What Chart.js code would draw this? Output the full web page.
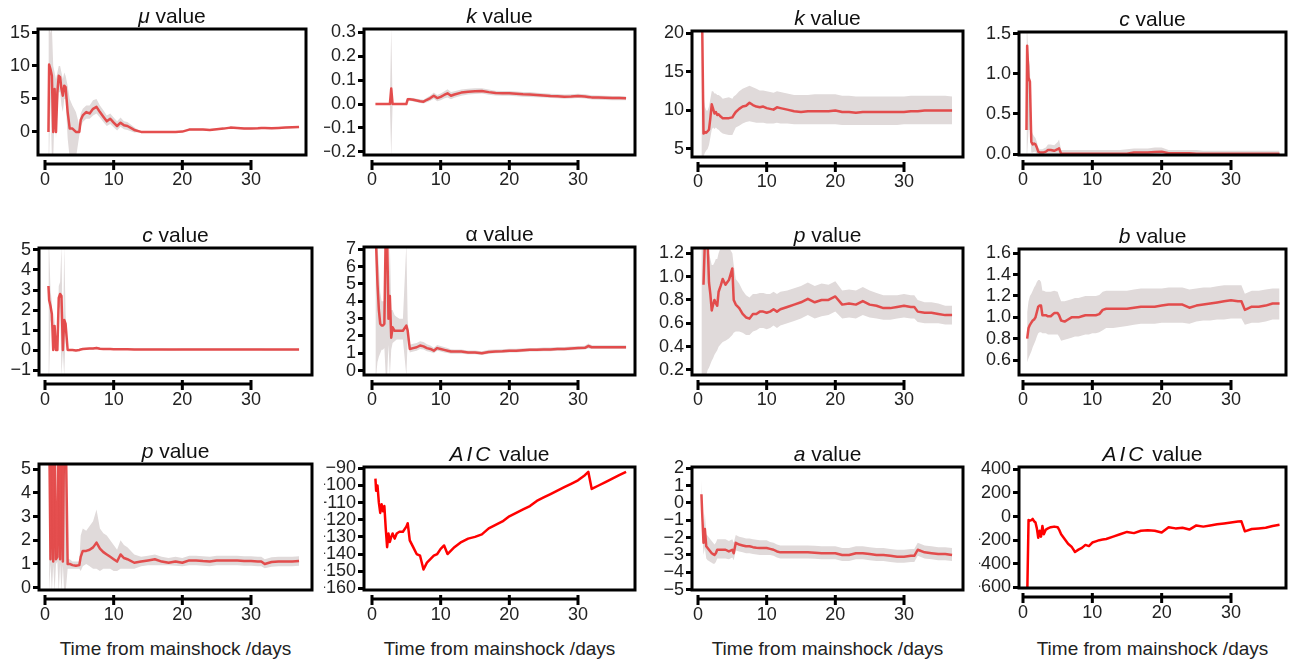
<!DOCTYPE html>
<html>
<head>
<meta charset="utf-8">
<script src="https://cdn.jsdelivr.net/npm/chart.js@4.4.0/dist/chart.umd.min.js"></script>
<style>
body { margin: 0; background: #fff; width: 1291px; height: 668px; overflow: hidden; position: relative; font-family: "Liberation Sans", Arial, sans-serif; }
canvas { position: absolute; }
.ttl { position: absolute; text-align: center; font-size: 21px; line-height: 24px; color: #111; white-space: nowrap; }
.xlab { position: absolute; text-align: center; font-size: 19px; line-height: 22px; color: #222; white-space: nowrap; }
</style>
</head>
<body>
<script>
// Shared time axis (days after mainshock); finer spacing early on where the fits jump around
const days = [0.5, 0.6, 0.8, 1.0, 1.2, 1.4, 1.6, 1.8, 2.0, 2.2,
    2.4, 2.6, 2.8, 3.0, 3.3, 3.6, 4.0, 4.5, 5.0, 5.2,
    5.5, 6.0, 6.5, 7.0, 7.5, 8.0, 8.5, 9.0, 9.5, 10,
    10.5, 11, 11.5, 12, 13, 14, 15, 16, 17, 18,
    19, 20, 21, 22, 23, 24, 25, 26, 27, 28,
    29, 30, 31, 31.5, 32, 33, 34, 35, 36, 37];
const xTicks = [0, 10, 20, 30];

// y tick labels per panel
const muTicks = [0, 5, 10, 15];
const kTicks = [-0.2, -0.1, 0, 0.1, 0.2, 0.3];
const k2Ticks = [5, 10, 15, 20];
const cTicks = [0, 0.5, 1.0, 1.5];
const c2Ticks = [-1, 0, 1, 2, 3, 4, 5];
const alphaTicks = [0, 1, 2, 3, 4, 5, 6, 7];
const pTicks = [0.2, 0.4, 0.6, 0.8, 1.0, 1.2];
const bTicks = [0.6, 0.8, 1.0, 1.2, 1.4, 1.6];
const p2Ticks = [0, 1, 2, 3, 4, 5];
const aicTicks = [-160, -150, -140, -130, -120, -110, -100, -90];
const aTicks = [-5, -4, -3, -2, -1, 0, 1, 2];
const aic2Ticks = [-600, -400, -200, 0, 200, 400];

// mu value
const muMid = [0, 10.2, 9.5, 8.5, 0, 6.5, 0, 6, 8.5, 8.3,
    6.5, 5.5, 7, 6.8, 3, 0.5, 0.5, 0, 0, 1.8,
    2.5, 3.0, 2.8, 3.5, 3.8, 3.0, 2.3, 1.6, 2.0, 1.4,
    0.9, 1.4, 1.0, 0.9, 0.3, 0, 0, 0, 0, 0,
    0, 0.05, 0.35, 0.35, 0.35, 0.3, 0.4, 0.5, 0.65, 0.6,
    0.5, 0.5, 0.55, 0.6, 0.6, 0.55, 0.6, 0.65, 0.7, 0.75];
const muLo = [-4, -4, 5, -4, -4, 3, -1, 3, 6, 6,
    4, 3, 5, 5, -1, -4, -4, -4, -0.5, 0.8,
    1.5, 2, 2, 2.5, 2.8, 2.2, 1.5, 0.9, 1.2, 0.7,
    0.2, 0.8, 0.4, 0.3, -0.1, 0, 0, 0, 0, 0,
    0, -0.05, 0.2, 0.2, 0.2, 0.15, 0.25, 0.35, 0.5, 0.45,
    0.35, 0.35, 0.4, 0.45, 0.45, 0.4, 0.45, 0.5, 0.55, 0.6];
const muHi = [16, 16, 15, 16, 10, 9, 8, 9, 10, 10,
    9, 8, 9, 8.5, 7, 5, 4, 3, 1, 2.8,
    3.5, 4, 4, 4.8, 5, 4, 3.3, 2.5, 2.8, 2.2,
    1.6, 2.2, 1.6, 1.5, 0.7, 0, 0, 0, 0, 0,
    0, 0.15, 0.5, 0.5, 0.5, 0.45, 0.55, 0.65, 0.8, 0.75,
    0.65, 0.65, 0.7, 0.75, 0.75, 0.7, 0.75, 0.8, 0.85, 0.9];

// k value (first model)
const kMid = [0, 0, 0, 0, 0, 0, 0, 0, 0, 0,
    0, 0, 0.065, 0, 0, 0, 0, 0, 0, 0.02,
    0.02, 0.018, 0.015, 0.012, 0.01, 0.018, 0.025, 0.035, 0.025, 0.03,
    0.038, 0.045, 0.035, 0.04, 0.048, 0.052, 0.054, 0.055, 0.05, 0.046,
    0.045, 0.045, 0.043, 0.041, 0.04, 0.038, 0.036, 0.034, 0.033, 0.031,
    0.032, 0.034, 0.032, 0.03, 0.028, 0.027, 0.026, 0.025, 0.025, 0.024];
const kLo = [0, 0, 0, 0, 0, 0, 0, 0, 0, 0,
    0, 0, -0.22, 0, 0, 0, 0, 0, 0, 0.014,
    0.014, 0.011, 0.008, 0.004, 0.002, 0.008, 0.014, 0.022, 0.012, 0.016,
    0.023, 0.028, 0.02, 0.026, 0.035, 0.04, 0.042, 0.044, 0.039, 0.036,
    0.035, 0.035, 0.033, 0.031, 0.03, 0.029, 0.027, 0.025, 0.024, 0.022,
    0.023, 0.025, 0.023, 0.021, 0.019, 0.018, 0.017, 0.016, 0.016, 0.016];
const kHi = [0, 0, 0, 0, 0, 0, 0, 0, 0, 0,
    0, 0, 0.32, 0, 0, 0, 0, 0, 0, 0.026,
    0.026, 0.025, 0.022, 0.02, 0.018, 0.028, 0.036, 0.048, 0.038, 0.044,
    0.053, 0.062, 0.05, 0.054, 0.061, 0.064, 0.066, 0.066, 0.061, 0.056,
    0.055, 0.055, 0.053, 0.051, 0.05, 0.047, 0.045, 0.043, 0.042, 0.04,
    0.041, 0.043, 0.041, 0.039, 0.037, 0.036, 0.035, 0.034, 0.034, 0.032];

// k value (second model)
const k2Mid = [22, 22, 7.0, 7.2, 7.1, 7.3, 7.5, 9.0, 10.8, 10.2,
    9.6, 9.8, 9.4, 9.5, 9.2, 9.0, 9.0, 9.0, 9.1, 9.4,
    9.8, 10.2, 10.5, 10.6, 11.0, 10.7, 10.5, 10.4, 10.5, 10.3,
    10.2, 10.1, 10.4, 10.3, 10.1, 9.9, 9.8, 9.9, 9.9, 9.9,
    9.9, 10.0, 9.8, 9.8, 9.7, 9.8, 9.8, 9.8, 9.8, 9.8,
    9.8, 9.8, 9.9, 9.9, 9.9, 10.0, 10.0, 10.0, 10.0, 10.0];
const k2Lo = [4, 4, 4, 4.5, 4.8, 5, 5.5, 6.5, 7.5, 7.8,
    7.6, 7.8, 7.6, 7.5, 7.2, 7.0, 6.9, 6.8, 6.8, 7.2,
    7.8, 8.0, 8.3, 8.5, 8.6, 8.5, 8.4, 8.4, 8.4, 8.3,
    8.3, 8.3, 8.4, 8.3, 8.3, 8.2, 8.2, 8.2, 8.2, 8.2,
    8.2, 8.2, 8.1, 8.1, 8.1, 8.1, 8.1, 8.1, 8.1, 8.1,
    8.1, 8.2, 8.2, 8.2, 8.2, 8.2, 8.2, 8.2, 8.2, 8.2];
const k2Hi = [21, 21, 12, 10.5, 10, 10, 10.5, 11.5, 12.5, 12.5,
    12.2, 12.2, 12.0, 12.0, 11.8, 11.5, 11.6, 11.7, 11.5, 11.8,
    12.0, 12.5, 12.8, 13.0, 13.2, 13.0, 12.8, 12.6, 12.6, 12.5,
    12.4, 12.3, 12.5, 12.4, 12.2, 12.0, 12.0, 12.0, 12.1, 12.1,
    12.1, 12.1, 11.9, 11.9, 11.8, 11.8, 11.8, 11.8, 11.8, 11.8,
    11.8, 11.8, 11.9, 11.9, 11.9, 11.9, 11.9, 11.9, 11.9, 11.8];

// c value (second model)
const cMid = [0.3, 1.35, 0.95, 0.9, 0.15, 0.12, 0.13, 0.12, 0.08, 0.03,
    0.02, 0.02, 0.02, 0.02, 0.03, 0.05, 0.05, 0.04, 0.06, 0.07,
    0.003, 0.003, 0.003, 0.003, 0.003, 0.003, 0.003, 0.003, 0.003, 0.003,
    0.003, 0.003, 0.003, 0.003, 0.003, 0.003, 0.003, 0.02, 0.02, 0.02,
    0.025, 0.03, 0.01, 0.01, 0.01, 0.01, 0.003, 0.003, 0.003, 0.003,
    0.003, 0.003, 0.003, 0.003, 0.003, 0.003, 0.003, 0.003, 0.003, 0.003];
const cLo = [0, 0, 0.3, 0.3, 0.02, 0.02, 0.03, 0.03, 0, 0,
    0, -0.01, -0.01, -0.01, -0.01, 0, 0, 0, 0, 0,
    -0.01, -0.01, -0.01, -0.01, -0.01, -0.01, -0.01, -0.01, -0.01, -0.01,
    -0.01, -0.01, -0.01, -0.01, -0.01, -0.01, -0.01, 0, 0, 0,
    0, 0, -0.01, -0.01, -0.01, -0.01, -0.01, -0.01, -0.01, -0.01,
    -0.01, -0.01, -0.01, -0.01, -0.01, -0.01, -0.01, -0.01, -0.01, -0.01];
const cHi = [1.55, 1.55, 1.2, 1.1, 0.3, 0.25, 0.22, 0.2, 0.15, 0.08,
    0.06, 0.06, 0.06, 0.07, 0.08, 0.12, 0.12, 0.11, 0.15, 0.18,
    0.05, 0.05, 0.05, 0.05, 0.05, 0.05, 0.05, 0.05, 0.05, 0.05,
    0.05, 0.05, 0.05, 0.05, 0.05, 0.05, 0.06, 0.07, 0.07, 0.07,
    0.08, 0.08, 0.05, 0.05, 0.05, 0.05, 0.05, 0.04, 0.04, 0.04,
    0.04, 0.04, 0.04, 0.04, 0.04, 0.04, 0.04, 0.04, 0.04, 0.04];

// c value (first model)
const c2Mid = [3.2, 2.5, 2.2, 1.8, 0, 1.2, 0, 0, 2.6, 2.8,
    2.7, 0, 1.5, 1.3, 0, 0, 0, -0.02, 0, 0.03,
    0.05, 0.06, 0.07, 0.08, 0.1, 0.06, 0.05, 0.05, 0.05, 0.04,
    0.04, 0.04, 0.04, 0.04, 0.03, 0.03, 0.03, 0.03, 0.03, 0.02,
    0.02, 0.03, 0.03, 0.03, 0.03, 0.03, 0.03, 0.03, 0.03, 0.03,
    0.03, 0.03, 0.03, 0.03, 0.02, 0.02, 0.02, 0.02, 0.02, 0.02];
const c2Lo = [-1.3, -1.3, 1.5, 1.2, -0.05, 0.5, -0.05, -0.05, 2.0, 2.2,
    -1.3, -0.05, -1.3, 0.8, -0.05, -0.05, -0.05, -0.07, -0.04, -0.01,
    0, 0.01, 0.02, 0.03, 0.04, 0.01, 0, 0, 0, 0,
    0, 0, 0, 0, -0.01, -0.01, -0.01, -0.01, -0.01, -0.02,
    -0.02, -0.01, -0.01, -0.01, -0.01, -0.01, -0.01, -0.01, -0.01, -0.01,
    -0.01, -0.01, -0.01, -0.01, -0.02, -0.02, -0.02, -0.02, -0.02, -0.02];
const c2Hi = [5.2, 5.2, 3.0, 2.4, 0.05, 1.8, 0.05, 0.05, 3.2, 3.4,
    5.2, 0.05, 5.2, 1.8, 0.05, 0.05, 0.05, 0.03, 0.04, 0.07,
    0.1, 0.11, 0.12, 0.13, 0.16, 0.11, 0.1, 0.1, 0.1, 0.08,
    0.08, 0.08, 0.08, 0.08, 0.07, 0.07, 0.07, 0.07, 0.07, 0.06,
    0.06, 0.07, 0.07, 0.07, 0.07, 0.07, 0.07, 0.07, 0.07, 0.07,
    0.07, 0.07, 0.07, 0.07, 0.06, 0.06, 0.06, 0.06, 0.06, 0.06];

// alpha value
const alphaMid = [8, 7.2, 5.0, 3.5, 2.7, 2.6, 2.6, 2.7, 8, 8,
    3.0, 4.3, 1.9, 2.5, 2.3, 2.3, 2.3, 2.3, 2.6, 2.3,
    1.25, 1.3, 1.35, 1.45, 1.4, 1.3, 1.25, 1.15, 1.3, 1.25,
    1.2, 1.15, 1.1, 1.1, 1.1, 1.05, 1.05, 1.0, 1.08, 1.1,
    1.12, 1.15, 1.15, 1.18, 1.2, 1.2, 1.22, 1.22, 1.25, 1.25,
    1.28, 1.3, 1.32, 1.42, 1.35, 1.35, 1.35, 1.35, 1.35, 1.35];
const alphaLo = [-0.3, -0.3, 0.5, 0.8, 1.0, 1.2, 1.2, 1.3, -0.3, -0.3,
    1.5, -0.3, 1.2, 1.6, 1.7, 1.8, 1.8, 1.8, -0.3, 1.8,
    1.05, 1.1, 1.15, 1.25, 1.22, 1.12, 1.08, 1.0, 1.15, 1.1,
    1.05, 1.02, 0.98, 0.98, 0.98, 0.95, 0.95, 0.9, 0.98, 1.0,
    1.02, 1.05, 1.05, 1.08, 1.1, 1.1, 1.12, 1.12, 1.15, 1.15,
    1.18, 1.2, 1.22, 1.28, 1.25, 1.25, 1.25, 1.25, 1.25, 1.25];
const alphaHi = [7.3, 7.3, 7.3, 6, 4.5, 4, 4, 4, 7.3, 7.3,
    4.5, 7.3, 3.5, 3.5, 3.2, 3.1, 3.0, 3.0, 7.3, 2.9,
    1.5, 1.55, 1.6, 1.7, 1.65, 1.52, 1.45, 1.32, 1.48, 1.42,
    1.36, 1.3, 1.24, 1.22, 1.22, 1.16, 1.16, 1.12, 1.2, 1.22,
    1.24, 1.27, 1.26, 1.29, 1.31, 1.31, 1.33, 1.33, 1.36, 1.36,
    1.39, 1.41, 1.43, 1.56, 1.46, 1.46, 1.46, 1.46, 1.46, 1.46];

// p value (second model)
const pMid = [null, null, 0.93, 1.3, 1.3, 1.3, 0.95, 0.85, 0.71, 0.76,
    0.8, 0.77, 0.75, 0.87, 0.92, 0.98, 0.93, 0.97, 1.07, 0.8,
    0.76, 0.73, 0.68, 0.65, 0.64, 0.68, 0.68, 0.7, 0.7, 0.69,
    0.7, 0.72, 0.7, 0.72, 0.74, 0.76, 0.78, 0.81, 0.78, 0.8,
    0.8, 0.83, 0.76, 0.77, 0.76, 0.79, 0.76, 0.75, 0.73, 0.73,
    0.74, 0.75, 0.74, 0.74, 0.7, 0.69, 0.69, 0.68, 0.67, 0.67];
const pLo = [0.1, 0.1, 0.1, 0.1, 0.15, 0.2, 0.22, 0.25, 0.28, 0.3,
    0.33, 0.35, 0.37, 0.4, 0.42, 0.44, 0.45, 0.47, 0.5, 0.52,
    0.53, 0.53, 0.52, 0.5, 0.5, 0.53, 0.54, 0.56, 0.56, 0.55,
    0.56, 0.58, 0.56, 0.58, 0.6, 0.62, 0.64, 0.67, 0.64, 0.66,
    0.67, 0.7, 0.64, 0.65, 0.64, 0.67, 0.65, 0.64, 0.63, 0.63,
    0.64, 0.65, 0.64, 0.64, 0.61, 0.6, 0.6, 0.6, 0.59, 0.59];
const pHi = [1.3, 1.3, 1.3, 1.3, 1.3, 1.3, 1.2, 1.15, 1.1, 1.1,
    1.12, 1.15, 1.15, 1.2, 1.25, 1.3, 1.3, 1.25, 1.2, 1.1,
    0.98, 0.94, 0.88, 0.84, 0.82, 0.85, 0.85, 0.86, 0.86, 0.85,
    0.85, 0.87, 0.85, 0.87, 0.88, 0.9, 0.92, 0.95, 0.92, 0.94,
    0.93, 0.96, 0.88, 0.89, 0.88, 0.91, 0.88, 0.86, 0.84, 0.84,
    0.84, 0.85, 0.84, 0.84, 0.8, 0.78, 0.78, 0.77, 0.75, 0.75];

// b value
const bMid = [null, 0.8, 0.9, 0.93, 0.95, 0.97, 0.98, 1.0, 1.05, 1.1,
    1.11, 1.11, 1.02, 1.02, 1.02, 1.01, 1.01, 1.04, 1.04, 1.02,
    0.97, 0.96, 0.98, 1.0, 1.0, 1.0, 1.01, 1.02, 1.02, 1.02,
    1.02, 1.03, 1.07, 1.08, 1.08, 1.08, 1.08, 1.09, 1.1, 1.1,
    1.1, 1.11, 1.12, 1.12, 1.12, 1.09, 1.11, 1.12, 1.13, 1.14,
    1.15, 1.16, 1.15, 1.15, 1.07, 1.1, 1.1, 1.11, 1.13, 1.13];
const bLo = [null, 0.58, 0.62, 0.65, 0.68, 0.72, 0.75, 0.78, 0.82, 0.85,
    0.86, 0.86, 0.85, 0.85, 0.85, 0.84, 0.84, 0.84, 0.84, 0.82,
    0.78, 0.79, 0.8, 0.81, 0.82, 0.82, 0.83, 0.84, 0.84, 0.85,
    0.85, 0.86, 0.88, 0.9, 0.9, 0.91, 0.92, 0.93, 0.94, 0.94,
    0.94, 0.95, 0.95, 0.95, 0.95, 0.94, 0.96, 0.97, 0.97, 0.98,
    0.98, 0.99, 0.99, 0.99, 0.93, 0.95, 0.95, 0.96, 0.98, 0.98];
const bHi = [null, 1.05, 1.15, 1.2, 1.22, 1.25, 1.28, 1.3, 1.33, 1.35,
    1.35, 1.33, 1.25, 1.25, 1.24, 1.24, 1.24, 1.25, 1.24, 1.2,
    1.15, 1.15, 1.16, 1.17, 1.18, 1.18, 1.19, 1.2, 1.2, 1.2,
    1.2, 1.21, 1.24, 1.25, 1.25, 1.25, 1.25, 1.26, 1.27, 1.27,
    1.27, 1.27, 1.28, 1.28, 1.28, 1.26, 1.27, 1.28, 1.28, 1.29,
    1.3, 1.3, 1.3, 1.3, 1.22, 1.25, 1.25, 1.26, 1.27, 1.27];

// p value (first model)
const p2Mid = [null, 7, 1.2, 7, 1.1, 7, 1.2, 1.3, 7, 1.2,
    7, 1.1, 7, 7, 1.0, 1.0, 0.95, 0.92, 0.95, 1.3,
    1.55, 1.55, 1.6, 1.7, 1.9, 1.65, 1.5, 1.4, 1.3, 1.2,
    1.1, 1.4, 1.25, 1.2, 1.05, 1.1, 1.15, 1.2, 1.1, 1.05,
    1.1, 1.05, 1.15, 1.15, 1.12, 1.1, 1.15, 1.15, 1.15, 1.15,
    1.12, 1.12, 1.1, 1.1, 1.0, 1.08, 1.1, 1.1, 1.1, 1.12];
const p2Lo = [null, -0.2, 1.0, -0.2, 0.95, -0.2, 1.0, 1.1, -0.2, 1.0,
    -0.2, 0.95, -0.2, -0.2, 0.8, 0.8, 0.8, 0.8, 0.8, 0.7,
    0.9, 1.0, 0.9, 0.8, 0.8, 0.7, 0.8, 0.8, 0.8, 0.7,
    0.7, 0.8, 0.8, 0.8, 0.8, 0.9, 0.95, 0.95, 0.95, 0.95,
    0.92, 0.9, 0.95, 0.95, 0.92, 0.9, 0.95, 0.95, 0.95, 0.95,
    0.92, 0.92, 0.9, 0.9, 0.82, 0.88, 0.9, 0.9, 0.9, 0.92];
const p2Hi = [null, 5.3, 1.4, 5.3, 1.3, 5.3, 1.4, 1.5, 5.3, 1.4,
    5.3, 1.3, 5.3, 5.3, 1.2, 1.2, 1.1, 1.1, 1.1, 2.2,
    2.5, 2.4, 2.6, 2.8, 3.3, 2.5, 2.3, 2.2, 2.0, 1.8,
    1.6, 2.0, 1.8, 1.7, 1.4, 1.3, 1.35, 1.4, 1.3, 1.25,
    1.3, 1.25, 1.35, 1.35, 1.32, 1.3, 1.35, 1.35, 1.35, 1.35,
    1.32, 1.32, 1.3, 1.3, 1.2, 1.28, 1.3, 1.3, 1.3, 1.32];

// AIC (first model)
const aicMid = [-96, -103, -100, -110, -116, -111, -115, -112, -125, -136,
    -128, -133, -130, -128, -131, -128, -127, -127, -124, -122,
    -132, -136, -140, -141, -149, -145, -143, -141, -140, -137,
    -135, -140, -138, -136, -133, -131, -130, -128.5, -125, -123,
    -121, -118, -116, -114, -112, -109, -107, -105, -103, -101,
    -99, -97, -94, -92, -102, -100, -98, -96, -94, -92];

// a value
const aMid = [0.5, -0.5, -2.3, -1.5, -2.5, -2.6, -2.7, -2.8, -2.9, -2.95,
    -3.0, -2.9, -2.7, -2.7, -2.7, -2.7, -2.7, -2.8, -2.7, -2.9,
    -2.3, -2.4, -2.45, -2.5, -2.5, -2.55, -2.58, -2.6, -2.6, -2.6,
    -2.65, -2.7, -2.8, -2.85, -2.85, -2.85, -2.85, -2.85, -2.87, -2.9,
    -2.9, -2.9, -3.0, -3.0, -2.9, -2.9, -2.95, -3.0, -3.0, -3.05,
    -3.1, -3.1, -3.05, -3.05, -2.7, -2.85, -2.9, -2.95, -2.95, -3.0];
const aLo = [-0.5, -1.5, -3.0, -2.6, -3.2, -3.3, -3.35, -3.4, -3.45, -3.5,
    -3.5, -3.4, -3.2, -3.2, -3.2, -3.2, -3.2, -3.25, -3.15, -3.3,
    -2.75, -2.8, -2.85, -2.9, -2.9, -2.95, -2.98, -3.0, -3.0, -3.0,
    -3.0, -3.05, -3.15, -3.2, -3.2, -3.2, -3.2, -3.2, -3.22, -3.25,
    -3.25, -3.25, -3.35, -3.35, -3.25, -3.25, -3.3, -3.35, -3.35, -3.4,
    -3.45, -3.45, -3.4, -3.4, -3.05, -3.2, -3.25, -3.3, -3.3, -3.35];
const aHi = [1.3, 0.5, -1.6, -0.6, -1.8, -1.9, -2.0, -2.1, -2.2, -2.3,
    -2.4, -2.3, -2.1, -2.1, -2.1, -2.1, -2.1, -2.2, -2.1, -2.3,
    -1.85, -1.95, -2.0, -2.05, -2.05, -2.1, -2.13, -2.15, -2.15, -2.15,
    -2.25, -2.3, -2.4, -2.45, -2.45, -2.45, -2.45, -2.45, -2.47, -2.5,
    -2.5, -2.5, -2.6, -2.6, -2.5, -2.5, -2.55, -2.6, -2.6, -2.65,
    -2.7, -2.7, -2.65, -2.65, -2.3, -2.45, -2.5, -2.55, -2.55, -2.6];

// AIC (second model)
const aic2Mid = [-700, -700, -30, -35, -30, -20, -40, -50, -100, -180,
    -120, -170, -80, -150, -110, -100, -90, -85, -90, -110,
    -150, -190, -230, -255, -300, -280, -265, -240, -250, -220,
    -210, -200, -195, -190, -170, -150, -130, -140, -120, -115,
    -120, -135, -90, -100, -95, -110, -75, -85, -75, -65,
    -58, -50, -42, -40, -125, -105, -100, -95, -80, -70];

const FONT = '"Liberation Sans", Arial, sans-serif';
const BAND = '#e0dada';
const RED_FIT = 'rgba(226, 60, 60, 0.9)';
const RED_AIC = '#ff0000';

// box = [left, top, right, bottom] of the framed plot area; x0/x30 = pixel of day 0 and day 30
const panels = [
    { title: '<i>μ</i> value', box: [38, 29, 306, 155], x0: 45, x30: 251, yMin: -3.5, yMax: 15.6, yTicks: muTicks, dec: 0, mid: muMid, lo: muLo, hi: muHi },
    { title: '<i>k</i> value', box: [364, 29, 635, 155], x0: 372, x30: 578, yMin: -0.213, yMax: 0.314, yTicks: kTicks, dec: 1, mid: kMid, lo: kLo, hi: kHi },
    { title: '<i>k</i> value', box: [692, 31, 963, 157], x0: 698, x30: 904, yw: 35, yMin: 3.96, yMax: 20.3, yTicks: k2Ticks, dec: 0, mid: k2Mid, lo: k2Lo, hi: k2Hi },
    { title: '<i>c</i> value', box: [1019, 32, 1286, 155], x0: 1023, x30: 1231, yMin: -0.012, yMax: 1.52, yTicks: cTicks, dec: 1, mid: cMid, lo: cLo, hi: cHi },
    { title: '<i>c</i> value', box: [39, 248, 312, 375], x0: 45, x30: 251, yMin: -1.25, yMax: 5.1, yTicks: c2Ticks, dec: 0, mid: c2Mid, lo: c2Lo, hi: c2Hi },
    { title: 'α value', box: [364, 247, 635, 375], x0: 372, x30: 578, yMin: -0.25, yMax: 7.13, yTicks: alphaTicks, dec: 0, mid: alphaMid, lo: alphaLo, hi: alphaHi },
    { title: '<i>p</i> value', box: [692, 248, 963, 375], x0: 698, x30: 904, yw: 35, yMin: 0.157, yMax: 1.245, yTicks: pTicks, dec: 1, mid: pMid, lo: pLo, hi: pHi },
    { title: '<i>b</i> value', box: [1019, 249, 1286, 375], x0: 1023, x30: 1231, yMin: 0.46, yMax: 1.64, yTicks: bTicks, dec: 1, mid: bMid, lo: bLo, hi: bHi },
    { title: '<i>p</i> value', box: [39, 464, 312, 590], x0: 45, x30: 251, yMin: -0.1, yMax: 5.22, yTicks: p2Ticks, dec: 0, mid: p2Mid, lo: p2Lo, hi: p2Hi, xlab: true },
    { title: '<i style="letter-spacing:3px">AIC</i> value', box: [364, 467, 635, 590], x0: 372, x30: 578, yMin: -161, yMax: -89.2, yTicks: aicTicks, dec: 0, mid: aicMid, aic: true, xlab: true },
    { title: '<i>a</i> value', box: [692, 467, 963, 590], x0: 698, x30: 904, yw: 35, yMin: -5.02, yMax: 2.07, yTicks: aTicks, dec: 0, mid: aMid, lo: aLo, hi: aHi, xlab: true },
    { title: '<i style="letter-spacing:3px">AIC</i> value', box: [1019, 467, 1286, 588], x0: 1023, x30: 1231, yMin: -605, yMax: 420, yTicks: aic2Ticks, dec: 0, mid: aic2Mid, aic: true, xlab: true }
];

// frame + base-R style x axis that floats a little below the frame
const rFrame = {
    id: 'rFrame',
    afterDraw(chart) {
        const { ctx, chartArea: a, scales: { x } } = chart;
        ctx.save();
        ctx.strokeStyle = '#000';
        ctx.lineWidth = 3;
        ctx.strokeRect(a.left, a.top, a.right - a.left, a.bottom - a.top);
        const px = x.ticks.map(t => x.getPixelForValue(t.value));
        const yAx = a.bottom + 9;
        ctx.beginPath();
        ctx.moveTo(px[0], yAx);
        ctx.lineTo(px[px.length - 1], yAx);
        px.forEach(p => { ctx.moveTo(p, yAx - 4); ctx.lineTo(p, yAx + 6); });
        ctx.stroke();
        ctx.restore();
    }
};

function fmt(v, dec) {
    const s = Number(v).toFixed(dec);
    return (s.startsWith('-') ? '\u2212' + s.slice(1) : s);
}

const toPoints = arr => days.map((d, i) => ({ x: d, y: arr[i] }));

panels.forEach(p => {
    const [l, t, r, b] = p.box;
    const yw = p.yw || 40;
    const W = r - l + yw + 12;
    const H = b - t + 70;

    const cv = document.createElement('canvas');
    cv.width = W;
    cv.height = H;
    cv.style.left = (l - yw) + 'px';
    cv.style.top = (t - 30) + 'px';
    cv.style.width = W + 'px';
    cv.style.height = H + 'px';
    document.body.appendChild(cv);

    const ttl = document.createElement('div');
    ttl.className = 'ttl';
    ttl.innerHTML = p.title;
    ttl.style.left = l + 'px';
    ttl.style.width = (r - l) + 'px';
    ttl.style.top = (t - 25) + 'px';
    document.body.appendChild(ttl);

    if (p.xlab) {
        const xl = document.createElement('div');
        xl.className = 'xlab';
        xl.textContent = 'Time from mainshock /days';
        xl.style.left = l + 'px';
        xl.style.width = (r - l) + 'px';
        xl.style.top = '638px';
        document.body.appendChild(xl);
    }

    const pxPerDay = (p.x30 - p.x0) / 30;
    const xMin = (l - p.x0) / pxPerDay;
    const xMax = (r - p.x0) / pxPerDay;

    const datasets = [{
        data: toPoints(p.mid),
        borderColor: p.aic ? RED_AIC : RED_FIT,
        borderWidth: p.aic ? 2.5 : 2.5,
        fill: false,
        clip: 0
    }];
    if (p.lo) {
        datasets.push({ data: toPoints(p.hi), borderWidth: 0, backgroundColor: BAND, fill: '+1', clip: 0 });
        datasets.push({ data: toPoints(p.lo), borderWidth: 0, fill: false, clip: 0 });
    }

    new Chart(cv, {
        type: 'line',
        data: { datasets },
        plugins: [rFrame],
        options: {
            responsive: false,
            animation: false,
            events: [],
            layout: { padding: { left: 0, top: 30, right: 12, bottom: 0 } },
            plugins: { legend: { display: false }, tooltip: { enabled: false } },
            elements: { point: { radius: 0 }, line: { tension: 0, borderJoinStyle: 'round' } },
            scales: {
                x: {
                    type: 'linear',
                    min: xMin,
                    max: xMax,
                    afterFit: s => { s.height = 40; },
                    afterBuildTicks: s => { s.ticks = xTicks.map(v => ({ value: v })); },
                    grid: { display: true, drawOnChartArea: false, drawTicks: false },
                    border: { display: false },
                    ticks: { padding: 14, color: '#222', font: { family: FONT, size: 18 }, maxRotation: 0, autoSkip: false }
                },
                y: {
                    type: 'linear',
                    min: p.yMin,
                    max: p.yMax,
                    afterFit: s => { s.width = yw; },
                    afterBuildTicks: s => { s.ticks = p.yTicks.map(v => ({ value: v })); },
                    grid: { drawOnChartArea: false, drawTicks: true, tickLength: 6, tickWidth: 3, tickColor: '#000' },
                    border: { display: false },
                    ticks: {
                        padding: 2,
                        color: '#222',
                        font: { family: FONT, size: 18 },
                        autoSkip: false,
                        callback: v => fmt(v, p.dec)
                    }
                }
            }
        }
    });
});
</script>
</body>
</html>
